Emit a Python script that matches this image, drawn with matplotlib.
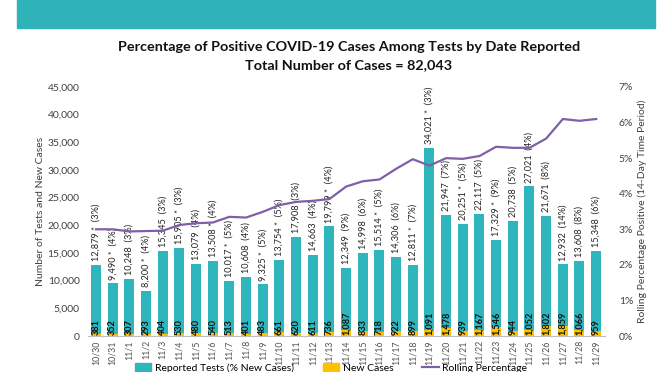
import matplotlib.pyplot as plt
from matplotlib.patches import Rectangle
from matplotlib.ticker import FuncFormatter

plt.rcParams['font.family'] = ['Lato', 'DejaVu Sans']

dates = ['10/30', '10/31', '11/1', '11/2', '11/3', '11/4', '11/5', '11/6', '11/7', '11/8',
         '11/9', '11/10', '11/11', '11/12', '11/13', '11/14', '11/15', '11/16', '11/17', '11/18',
         '11/19', '11/20', '11/21', '11/22', '11/23', '11/24', '11/25', '11/26', '11/27', '11/28',
         '11/29']
tests = [12879, 9490, 10248, 8200, 15345, 15905, 13079, 13508, 10017, 10608,
         9325, 13754, 17908, 14663, 19799, 12349, 14998, 15514, 14306, 12811,
         34021, 21947, 20251, 22117, 17329, 20738, 27021, 21671, 12932, 13608,
         15348]
starred = [1, 1, 0, 1, 0, 1, 0, 1, 1, 0,
           1, 1, 0, 0, 1, 0, 0, 1, 0, 1,
           1, 0, 1, 0, 1, 0, 0, 0, 0, 0,
           0]
pct_new = [3, 4, 3, 4, 3, 3, 4, 4, 5, 4,
           5, 5, 3, 4, 4, 9, 6, 5, 6, 7,
           3, 7, 5, 5, 9, 5, 4, 8, 14, 8,
           6]
new_cases = [381, 352, 307, 293, 404, 530, 480, 540, 513, 401,
             483, 661, 620, 611, 736, 1087, 833, 718, 922, 899,
             1091, 1478, 939, 1167, 1546, 944, 1052, 1802, 1859, 1066,
             959]
rolling = [3.0, 3.0, 2.94, 2.95, 2.96, 3.12, 3.17, 3.19, 3.35, 3.33,
           3.49, 3.68, 3.77, 3.80, 3.85, 4.2, 4.35, 4.4, 4.7, 4.97,
           4.79, 5.0, 4.98, 5.06, 5.32, 5.29, 5.29, 5.55, 6.1, 6.05,
           6.1]

teal = '#2fb5bc'
gold = '#ffc000'
purple = '#7f5fa8'

fig = plt.figure(figsize=(6.72, 3.72), dpi=100)

# header band
fig.patches.append(Rectangle((17 / 672, 1 - 28 / 372), 638 / 672, 28 / 372,
                             transform=fig.transFigure, color='#2fb3b9', zorder=0))

fig.text(0.519, 1 - 47 / 372, 'Percentage of Positive COVID-19 Cases Among Tests by Date Reported',
         ha='center', va='center', fontsize=10.4, fontweight='bold', color='#111111')
fig.text(0.519, 1 - 65 / 372, 'Total Number of Cases = 82,043',
         ha='center', va='center', fontsize=10.4, fontweight='bold', color='#111111')

ax = fig.add_axes([88 / 672, 1 - 336 / 372, 517 / 672, 249 / 372])
x = list(range(len(dates)))
ax.bar(x, tests, width=0.6, color=teal, zorder=2)
ax.bar(x, new_cases, width=0.6, color=gold, zorder=3)

for i in x:
    lbl = f"{tests[i]:,}{' *' if starred[i] else ''}  ({pct_new[i]}%)"
    ax.text(i, tests[i] + 700, lbl, rotation=90, ha='center', va='bottom',
            fontsize=6.6, color='#222222', zorder=5)
    ax.text(i, 150, f"{new_cases[i]:,}", rotation=90, ha='center', va='bottom',
            fontsize=6.6, fontweight='bold', color='#111111', zorder=5)

ax.set_xlim(-0.48, 30.53)
ax.set_ylim(0, 45000)
ax.set_yticks(range(0, 45001, 5000))
ax.yaxis.set_major_formatter(FuncFormatter(lambda v, p: f"{int(v):,}"))
ax.set_xticks(x)
ax.set_xticklabels(dates, rotation=90, fontsize=6.3, color='#505050')
ax.tick_params(axis='y', length=0, labelsize=7.5, labelcolor='#404040', pad=6)
ax.tick_params(axis='x', length=0, pad=3)
for s in ['top', 'right', 'left']:
    ax.spines[s].set_visible(False)
ax.spines['bottom'].set_color('#bfbfbf')
ax.set_ylabel('Number of Tests and New Cases', fontsize=7.5, color='#404040', labelpad=2)

ax2 = ax.twinx()
ax2.plot(x, rolling, color=purple, linewidth=1.6, zorder=4)
ax2.set_ylim(0, 7)
ax2.set_yticks(range(0, 8))
ax2.yaxis.set_major_formatter(FuncFormatter(lambda v, p: f"{int(v)}%"))
ax2.tick_params(axis='y', length=0, labelsize=7.5, labelcolor='#404040', pad=10)
for s in ['top', 'right', 'left', 'bottom']:
    ax2.spines[s].set_visible(False)
ax2.set_ylabel('Rolling Percentage Positive (14-Day Time Period)', fontsize=7.5,
               color='#404040', labelpad=3)

handles = [Rectangle((0, 0), 1, 1, color=teal), Rectangle((0, 0), 1, 1, color=gold),
           plt.Line2D([], [], color=purple, linewidth=1.6)]
fig.legend(handles, ['Reported Tests (% New Cases)', 'New Cases', 'Rolling Percentage'],
           loc='upper center', bbox_to_anchor=(0.4925, 1 - 363 / 372), ncol=3, frameon=False,
           fontsize=7.5, handlelength=1.6, handletextpad=0.3, columnspacing=2.8,
           borderaxespad=0, borderpad=0)

fig.savefig('out.png', dpi=100)
